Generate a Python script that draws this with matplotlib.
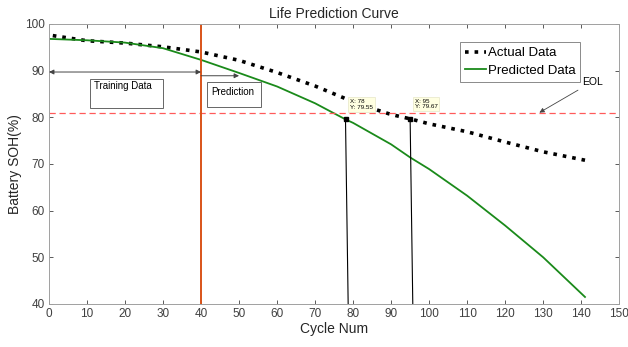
import numpy as np
import matplotlib
matplotlib.use("Agg")
import matplotlib.pyplot as plt
from matplotlib.patches import Rectangle

plt.rcParams['font.family'] = ['Liberation Sans', 'DejaVu Sans']

# values
cyc_act = [1, 10, 20, 30, 40, 50, 60, 70, 78, 80, 90, 95, 100, 110, 120, 130, 141]
soh_act = [97.5, 96.4, 95.9, 95.1, 94.0, 92.2, 89.6, 86.7, 84.0, 83.2, 80.6, 79.67, 78.6, 76.9, 74.7, 72.6, 70.8]

cyc_pred = [0, 10, 20, 30, 40, 50, 60, 70, 78, 80, 90, 95, 100, 110, 120, 130, 141]
soh_pred = [96.8, 96.5, 96.0, 94.8, 92.3, 89.5, 86.6, 83.0, 79.55, 78.8, 74.2, 71.4, 68.9, 63.2, 56.8, 50.0, 41.5]

eol = 81
split = 40
tips = [(78, 79.55), (95, 79.67)]

fig, ax = plt.subplots(figsize=(6.28, 3.47), dpi=100)
fig.subplots_adjust(left=0.078, right=0.986, bottom=0.124, top=0.931)

ax.plot(cyc_act, soh_act, ':', color='black', lw=2.6, label='Actual Data')
ax.plot(cyc_pred, soh_pred, '-', color='#1a8a1a', lw=1.3, label='Predicted Data')
ax.axhline(eol, color='#ff5a5a', ls='--', lw=0.9, dashes=(5, 3))
ax.axvline(split, color='#d95319', lw=1.4)

for x, y in tips:
    ax.plot([x, x + 0.7], [y, 40], color='black', lw=0.8)
    ax.plot(x, y, 's', color='black', ms=3.5)
    ax.text(x + 1.2, y + 2.0, 'X: %d\nY: %.2f' % (x, y), fontsize=4.5, va='bottom', ha='left',
            bbox=dict(boxstyle='square,pad=0.3', fc='#ffffe1', ec='#e6e6c8', lw=0.5))

# arrows and text boxes
ax.annotate('', xy=(0, 89.7), xytext=(split, 89.7),
            arrowprops=dict(arrowstyle='<|-|>', color='#444444', lw=0.7, mutation_scale=7,
                            shrinkA=0, shrinkB=0))
ax.annotate('', xy=(50, 88.9), xytext=(split, 88.9),
            arrowprops=dict(arrowstyle='-|>', color='#444444', lw=0.7, mutation_scale=7,
                            shrinkA=0, shrinkB=0))
ax.add_patch(Rectangle((10.8, 82.0), 19.2, 6.2, fc='white', ec='#666666', lw=0.7, zorder=3))
ax.text(11.8, 86.8, 'Training Data', fontsize=7, va='center', ha='left', zorder=4)
ax.add_patch(Rectangle((41.6, 82.2), 14.2, 5.4, fc='white', ec='#666666', lw=0.7, zorder=3))
ax.text(42.6, 85.5, 'Prediction', fontsize=7, va='center', ha='left', zorder=4)
ax.annotate('EOL', xy=(129, eol), xytext=(140.2, 87.6), fontsize=7.5, va='center',
            arrowprops=dict(arrowstyle='-|>', color='#444444', lw=0.6, mutation_scale=7,
                            shrinkA=1, shrinkB=0))

ax.set_xlim(0, 150)
ax.set_ylim(40, 100)
ax.set_xticks(np.arange(0, 151, 10))
ax.set_yticks(np.arange(40, 101, 10))
ax.tick_params(direction='in', length=3, width=0.6, colors='#404040', labelsize=8.5,
               top=True, right=True, pad=3)
for s in ax.spines.values():
    s.set_color('#a0a0a0')
    s.set_linewidth(0.7)
ax.set_xlabel('Cycle Num', fontsize=10, color='#262626', labelpad=1)
ax.set_ylabel('Battery SOH(%)', fontsize=10, color='#262626', labelpad=2)
ax.set_title('Life Prediction Curve', fontsize=10, color='#262626', pad=4)

leg = ax.legend(loc='upper right', bbox_to_anchor=(0.932, 0.936), borderaxespad=0,
                fontsize=9.5, frameon=True, fancybox=False, edgecolor='#555555',
                handlelength=1.6, handletextpad=0.1, borderpad=0.4, labelspacing=0.4)
leg.get_frame().set_linewidth(0.6)

fig.savefig('out.png', dpi=100)
